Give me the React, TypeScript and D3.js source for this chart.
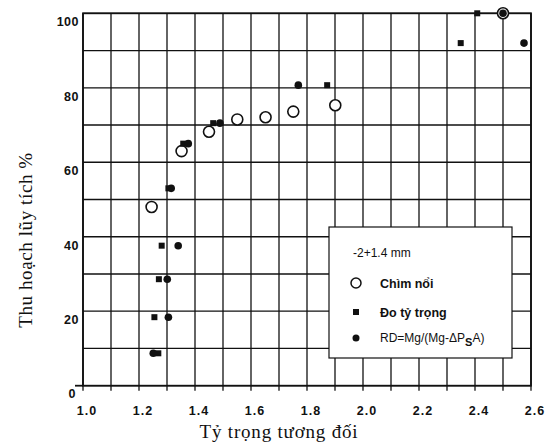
import * as d3 from "d3";

// x = relative density, y = cumulative recovery (%)
const floatSinkX = [1.245, 1.352, 1.45, 1.551, 1.652, 1.751, 1.901, 2.5];
const floatSinkY = [48, 63, 68.2, 71.5, 72.1, 73.6, 75.3, 100];

const densityX = [1.269, 1.255, 1.271, 1.281, 1.305, 1.358, 1.465, 1.872, 2.349, 2.408];
const densityY = [8.7, 18.4, 28.6, 37.6, 53, 65, 70.5, 80.7, 92, 100];

const rdX = [1.251, 1.305, 1.301, 1.34, 1.315, 1.376, 1.489, 1.769, 2.5, 2.575];
const rdY = [8.7, 18.4, 28.6, 37.6, 53, 65, 70.5, 80.7, 100, 92];

const xTickLabels = ["1.0", "1.2", "1.4", "1.6", "1.8", "2.0", "2.2", "2.4", "2.6"];
const yTickLabels = ["0", "20", "40", "60", "80", "100"];

const W = 552;
const H = 443;
const sans = "'Liberation Sans', Arial, sans-serif";
const serif = "'Liberation Serif', 'Times New Roman', serif";
const ink = "#111";

export default function App() {
  const x = d3.scaleLinear().domain([1.0, 2.6]).range([83, 531]);
  const y = d3.scaleLinear().domain([0, 100]).range([385.7, 13.3]);

  const xGrid = d3.range(1.0, 2.6001, 0.1);
  const yGrid = d3.range(0, 100.001, 10);

  return (
    <svg
      width={W}
      height={H}
      style={{ position: "absolute", left: 0, top: 0, background: "#fff" }}
    >
      <rect width={W} height={H} fill="#fff" />

      {/* grid */}
      {xGrid.map((v, i) => (
        <g key={"xg" + i}>
          <line x1={x(v)} x2={x(v)} y1={y(100)} y2={y(0)} stroke={ink} strokeWidth={1.3} />
          <line x1={x(v)} x2={x(v)} y1={y(0)} y2={y(0) + 5} stroke={ink} strokeWidth={1.3} />
        </g>
      ))}
      {yGrid.map((v, i) => (
        <line key={"yg" + i} x1={x(1.0)} x2={x(2.6)} y1={y(v)} y2={y(v)} stroke={ink} strokeWidth={1.3} />
      ))}

      {/* frame */}
      <rect
        x={x(1.0)}
        y={y(100)}
        width={x(2.6) - x(1.0)}
        height={y(0) - y(100)}
        fill="none"
        stroke={ink}
        strokeWidth={1.8}
      />
      <line x1={75} x2={x(1.0)} y1={y(0)} y2={y(0)} stroke={ink} strokeWidth={1.8} />

      {/* tick labels */}
      {xTickLabels.map((t) => (
        <text
          key={"xt" + t}
          x={x(+t) + 4}
          y={415}
          textAnchor="middle"
          fontFamily={sans}
          fontWeight="bold"
          fontSize={12.5}
          letterSpacing={1}
          fill={ink}
        >
          {t}
        </text>
      ))}
      {yTickLabels.map((t) => (
        <text
          key={"yt" + t}
          x={t === "0" ? 76 : 79}
          y={y(+t) + (t === "0" ? 12 : 13)}
          textAnchor="end"
          fontFamily={sans}
          fontWeight="bold"
          fontSize={12.5}
          letterSpacing={0.5}
          fill={ink}
        >
          {t}
        </text>
      ))}

      {/* axis titles */}
      <text
        x={279}
        y={438}
        textAnchor="middle"
        fontFamily={serif}
        fontSize={19}
        letterSpacing={0.8}
        fill={ink}
      >
        Tỷ trọng tương đối
      </text>
      <text
        transform={`translate(31.5,240) rotate(-90)`}
        textAnchor="middle"
        fontFamily={serif}
        fontSize={19}
        letterSpacing={0.6}
        fill={ink}
      >
        Thu hoạch lũy tích %
      </text>

      {/* data: float-sink circles below the other marks */}
      {floatSinkX.map((v, i) => (
        <circle
          key={"fs" + i}
          cx={x(v)}
          cy={y(floatSinkY[i])}
          r={5.5}
          fill="#fff"
          stroke={ink}
          strokeWidth={1.6}
        />
      ))}
      {densityX.map((v, i) => (
        <rect
          key={"d" + i}
          x={x(v) - 3}
          y={y(densityY[i]) - 3}
          width={6}
          height={6}
          fill={ink}
        />
      ))}
      {rdX.map((v, i) => (
        <circle key={"rd" + i} cx={x(v)} cy={y(rdY[i])} r={3.8} fill={ink} />
      ))}

      {/* legend */}
      <g>
        <rect x={329} y={227} width={183} height={131} fill="#fff" stroke={ink} strokeWidth={1.2} />
        <text x={353} y={257} fontFamily={sans} fontSize={12} fill={ink}>
          -2+1.4 mm
        </text>
        <circle cx={356} cy={283} r={5} fill="#fff" stroke={ink} strokeWidth={1.5} />
        <text x={380} y={287.5} fontFamily={sans} fontWeight="bold" fontSize={12.5} fill={ink}>
          Chìm nổi
        </text>
        <rect x={353} y={309} width={6} height={6} fill={ink} />
        <text x={380} y={316.5} fontFamily={sans} fontWeight="bold" fontSize={12.5} fill={ink}>
          Đo tỷ trọng
        </text>
        <circle cx={356} cy={338} r={3.5} fill={ink} />
        <text x={380} y={342} fontFamily={sans} fontSize={12} fill={ink}>
          RD=Mg/(Mg-ΔP
          <tspan dy={4} fontWeight="bold" fontSize={11}>S</tspan>
          <tspan dy={-4}>A)</tspan>
        </text>
      </g>
    </svg>
  );
}
